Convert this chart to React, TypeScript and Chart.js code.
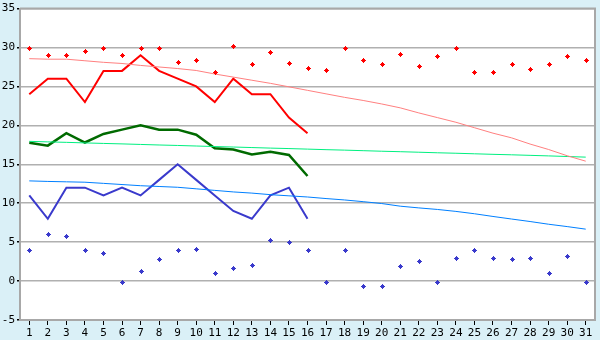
import React, { useEffect, useRef } from "react";
import { Chart, registerables } from "chart.js";
Chart.register(...registerables);

const days = ["1","2","3","4","5","6","7","8","9","10","11","12","13","14","15","16","17","18","19","20","21","22","23","24","25","26","27","28","29","30","31"];

const maxPoints = [30, 29, 29, 29.6, 30, 29, 30, 30, 28.2, 28.4, 26.9, 30.2, 27.9, 29.45, 28.05, 27.4, 27.05, 30, 28.4, 27.9, 29.2, 27.6, 28.95, 30, 26.9, 26.9, 27.9, 27.2, 27.9, 28.95, 28.4];
const maxLine = [24, 26, 26, 23, 27, 27, 29, 27, 26, 25, 23, 26, 24, 24, 21, 19];
const maxTrend = [28.57, 28.5, 28.5, 28.3, 28.1, 27.95, 27.7, 27.5, 27.3, 27.05, 26.6, 26.2, 25.8, 25.4, 24.95, 24.5, 24.05, 23.6, 23.2, 22.75, 22.25, 21.6, 21.0, 20.4, 19.7, 19.0, 18.4, 17.6, 16.9, 16.1, 15.4];

const meanLine = [17.76, 17.4, 19.0, 17.8, 18.9, 19.45, 20, 19.45, 19.45, 18.8, 17.05, 16.9, 16.25, 16.6, 16.2, 13.5];
const meanTrend = [17.95, 17.88, 17.82, 17.75, 17.68, 17.62, 17.55, 17.48, 17.42, 17.35, 17.28, 17.22, 17.15, 17.08, 17.02, 16.95, 16.88, 16.82, 16.75, 16.68, 16.62, 16.55, 16.48, 16.42, 16.35, 16.28, 16.22, 16.15, 16.08, 16.0, 15.92];

const minPoints = [4, 6, 5.85, 4, 3.63, -0.17, 1.23, 2.87, 4, 4.14, 1.1, 1.73, 2.11, 5.28, 5.03, 4, -0.17, 4, -0.67, -0.67, 2, 2.62, -0.17, 3, 4, 3, 2.87, 3, 1.1, 3.25, -0.17];
const minLine = [11, 8, 12, 12, 11, 12, 11, 13, 15, 13, 11, 9, 8, 11, 12, 8];
const minTrend = [12.87, 12.8, 12.75, 12.7, 12.55, 12.4, 12.25, 12.15, 12.05, 11.85, 11.65, 11.45, 11.3, 11.1, 10.95, 10.8, 10.6, 10.42, 10.2, 9.96, 9.62, 9.4, 9.2, 8.95, 8.65, 8.3, 7.97, 7.65, 7.3, 7.0, 6.67];

const yTicks = [-5, 0, 5, 10, 15, 20, 25, 30, 35];

function makeMarker(color: string): HTMLCanvasElement {
  const c = document.createElement("canvas");
  c.width = 5;
  c.height = 5;
  const g = c.getContext("2d")!;
  g.fillStyle = color;
  g.fillRect(2, 0, 1, 5);
  g.fillRect(0, 2, 5, 1);
  g.fillRect(1, 1, 3, 3);
  return c;
}

export default function App() {
  const ref = useRef<HTMLCanvasElement | null>(null);
  useEffect(() => {
    document.body.style.margin = "0";
    const redMarker = makeMarker("#ff0000");
    const blueMarker = makeMarker("#3a3acc");
    const bgPlugin = {
      id: "bg",
      beforeDraw(chart: any) {
        const { ctx, chartArea: a } = chart;
        ctx.save();
        ctx.fillStyle = "#daf0f7";
        ctx.fillRect(0, 0, chart.width, chart.height);
        ctx.fillStyle = "#ffffff";
        ctx.fillRect(a.left, a.top, a.right - a.left, a.bottom - a.top);
        ctx.restore();
      },
      afterDatasetsDraw(chart: any) {
        const { ctx, chartArea: a } = chart;
        ctx.save();
        chart.data.datasets.forEach((ds: any, i: number) => {
          if (!ds.marker) return;
          const meta = chart.getDatasetMeta(i);
          meta.data.forEach((el: any) => {
            ctx.drawImage(ds.marker, Math.round(el.x) - 2, Math.round(el.y) - 2);
          });
        });
        ctx.strokeStyle = "#a8a8a8";
        ctx.lineWidth = 2;
        ctx.beginPath();
        ctx.moveTo(a.left, a.top);
        ctx.lineTo(a.right, a.top);
        ctx.lineTo(a.right, a.bottom);
        ctx.stroke();
        ctx.restore();
      },
    };
    const chart = new Chart(ref.current!, {
      type: "line",
      data: {
        labels: days,
        datasets: [
          { data: maxTrend, borderColor: "#ff8080", borderWidth: 1, pointRadius: 0 },
          { data: meanTrend, borderColor: "#00f080", borderWidth: 1, pointRadius: 0 },
          { data: minTrend, borderColor: "#0080ff", borderWidth: 1, pointRadius: 0 },
          { data: maxLine, borderColor: "#ff0000", borderWidth: 2, pointRadius: 0 },
          { data: meanLine, borderColor: "#006a00", borderWidth: 2.5, pointRadius: 0 },
          { data: minLine, borderColor: "#3a3acc", borderWidth: 2, pointRadius: 0 },
          { data: maxPoints, showLine: false, pointRadius: 0, marker: redMarker } as any,
          { data: minPoints, showLine: false, pointRadius: 0, marker: blueMarker } as any,
        ],
      },
      options: {
        animation: false,
        responsive: false,
        layout: { padding: { top: 5, right: 5, left: 0, bottom: 0 } },
        plugins: { legend: { display: false }, tooltip: { enabled: false } },
        scales: {
          x: {
            offset: true,
            grid: { display: true, drawOnChartArea: false, drawTicks: true, tickLength: 5, tickColor: "#000000", offset: false },
            border: { display: true, color: "#a8a8a8", width: 2 },
            ticks: { color: "#000000", font: { family: "DejaVu Sans Mono", size: 11 }, padding: 2, maxRotation: 0, autoSkip: false },
            afterFit(s: any) { s.height = 20; },
          },
          y: {
            min: -5,
            max: 35,
            afterBuildTicks(s: any) { s.ticks = yTicks.map((v) => ({ value: v })); },
            grid: { color: "#b0b0b0", lineWidth: 1.5, tickLength: 3, tickColor: "#000000" },
            border: { display: true, color: "#a8a8a8", width: 2 },
            ticks: { color: "#000000", font: { family: "DejaVu Sans Mono", size: 11 }, padding: 2 },
            afterFit(s: any) { s.width = 20; },
          },
        },
      },
      plugins: [bgPlugin],
    });
    return () => chart.destroy();
  }, []);
  return <canvas ref={ref} width={600} height={340} style={{ display: "block" }} />;
}
